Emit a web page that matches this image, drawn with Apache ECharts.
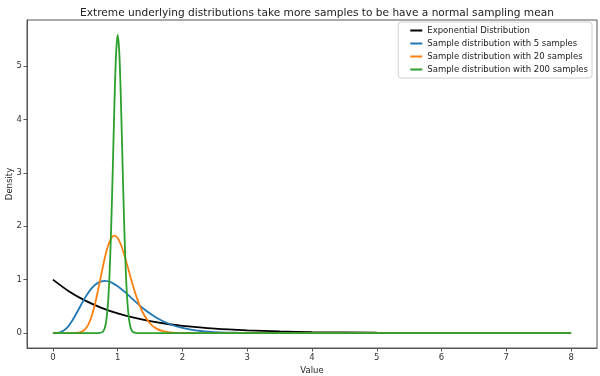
<!DOCTYPE html>
<html>
<head>
<meta charset="utf-8">
<script src="https://cdn.jsdelivr.net/npm/echarts@6/dist/echarts.min.js"></script>
<style>
  html, body { margin: 0; padding: 0; background: #fff; }
  #chart { width: 600px; height: 376px; }
</style>
</head>
<body>
<div id="chart"></div>
<script>
// values
let expX = [0, 0.25, 0.5, 0.75, 1, 1.25, 1.5, 1.75, 2, 2.5, 3, 3.5, 4, 5, 6, 7, 8];
let expY = [1, 0.779, 0.607, 0.472, 0.368, 0.287, 0.223, 0.174, 0.135, 0.082, 0.050, 0.030, 0.018, 0.007, 0.0025, 0.001, 0.0003];

let s5X = [0, 0.1, 0.2, 0.3, 0.4, 0.5, 0.6, 0.7, 0.8, 0.9, 1.0, 1.1, 1.2, 1.3, 1.4, 1.5, 1.6, 1.7, 1.8, 1.9, 2.0, 2.2, 2.4, 2.6, 2.8, 3.0, 3.5, 4, 8];
let s5Y = [0, 0.008, 0.077, 0.235, 0.451, 0.668, 0.840, 0.944, 0.977, 0.949, 0.877, 0.779, 0.669, 0.559, 0.456, 0.365, 0.286, 0.221, 0.169, 0.127, 0.095, 0.051, 0.027, 0.013, 0.007, 0.003, 0.0004, 0, 0];

let s20X = [0, 0.3, 0.4, 0.45, 0.5, 0.55, 0.6, 0.65, 0.7, 0.75, 0.8, 0.85, 0.9, 0.95, 1.0, 1.05, 1.1, 1.15, 1.2, 1.25, 1.3, 1.35, 1.4, 1.5, 1.6, 1.7, 1.8, 1.9, 2.0, 2.2, 8];
let s20Y = [0, 0.0003, 0.008, 0.027, 0.075, 0.168, 0.323, 0.544, 0.818, 1.116, 1.399, 1.629, 1.775, 1.824, 1.778, 1.653, 1.471, 1.260, 1.040, 0.831, 0.645, 0.486, 0.357, 0.179, 0.083, 0.035, 0.014, 0.005, 0.002, 0, 0];

let s200X = [0, 0.7, 0.75, 0.775, 0.8, 0.825, 0.85, 0.875, 0.9, 0.925, 0.95, 0.975, 1.0, 1.025, 1.05, 1.075, 1.1, 1.125, 1.15, 1.175, 1.2, 1.225, 1.25, 1.3, 8];
let s200Y = [0, 0, 0.01, 0.03, 0.09, 0.24, 0.55, 1.12, 2.0, 3.1, 4.3, 5.22, 5.58, 5.25, 4.35, 3.18, 2.05, 1.16, 0.58, 0.26, 0.1, 0.035, 0.012, 0, 0];

let xTicks = [0, 1, 2, 3, 4, 5, 6, 7, 8];
let yTicks = [0, 1, 2, 3, 4, 5];

let names = ['Exponential Distribution', 'Sample distribution with 5 samples',
    'Sample distribution with 20 samples', 'Sample distribution with 200 samples'];
let colors = ['#000000', '#1f77b4', '#ff7f0e', '#2ca02c'];

function pairs(xs, ys) {
    let res = [];
    for (let i = 0; i < xs.length; i++) {
        res.push([xs[i], ys[i]]);
    }
    return res;
}

let seriesData = [pairs(expX, expY), pairs(s5X, s5Y), pairs(s20X, s20Y), pairs(s200X, s200Y)];

let font = 'DejaVu Sans';

let seriesArray = [];
for (let i = 0; i < names.length; i++) {
    seriesArray.push({
        name: names[i],
        type: 'line',
        data: seriesData[i],
        showSymbol: false,
        symbol: 'none',
        smooth: 0.3,
        lineStyle: { width: 1.8, color: colors[i] },
        itemStyle: { color: colors[i] },
        z: 2 + i
    });
}

let myChart = echarts.init(document.getElementById('chart'), null, { renderer: 'canvas' });

let option = {
    animation: false,
    color: colors,
    title: {
        text: 'Extreme underlying distributions take more samples to be have a normal sampling mean',
        left: 312,
        textAlign: 'center',
        top: 3,
        textStyle: { fontFamily: font, fontSize: 10.6, fontWeight: 'normal', color: '#222' }
    },
    legend: {
        data: names,
        orient: 'vertical',
        right: 8,
        top: 22,
        icon: 'rect',
        itemWidth: 12,
        itemHeight: 2,
        itemGap: 4,
        padding: [4, 4, 4, 12],
        backgroundColor: '#fff',
        borderColor: '#d0d0d0',
        borderWidth: 1,
        borderRadius: 3,
        textStyle: { fontFamily: font, fontSize: 8.5, color: '#222' }
    },
    grid: {
        left: 27,
        right: 3,
        top: 20,
        bottom: 28,
        outerBoundsMode: 'none',
        containLabel: false,
        show: true,
        borderColor: '#555',
        borderWidth: 1
    },
    xAxis: {
        type: 'value',
        min: -0.4,
        max: 8.4,
        name: 'Value',
        nameLocation: 'middle',
        nameGap: 18,
        nameMoveOverlap: false,
        nameTextStyle: { fontFamily: font, fontSize: 8.5, color: '#222' },
        axisLine: { show: true, onZero: false, lineStyle: { color: '#555' } },
        axisTick: { show: true, length: 3.5, customValues: xTicks, lineStyle: { color: '#555' } },
        axisLabel: { customValues: xTicks, fontFamily: font, fontSize: 8.5, color: '#333', margin: 5 },
        splitLine: { show: false }
    },
    yAxis: {
        type: 'value',
        min: -0.28,
        max: 5.86,
        name: 'Density',
        nameLocation: 'middle',
        nameGap: 17,
        nameRotate: 90,
        nameMoveOverlap: false,
        nameTextStyle: { fontFamily: font, fontSize: 8.5, color: '#222', verticalAlign: 'middle' },
        axisLine: { show: true, onZero: false, lineStyle: { color: '#555' } },
        axisTick: { show: true, length: 3.5, customValues: yTicks, lineStyle: { color: '#555' } },
        axisLabel: { customValues: yTicks, fontFamily: font, fontSize: 8.5, color: '#333', margin: 5 },
        splitLine: { show: false }
    },
    series: seriesArray
};

myChart.setOption(option);
</script>
</body>
</html>
